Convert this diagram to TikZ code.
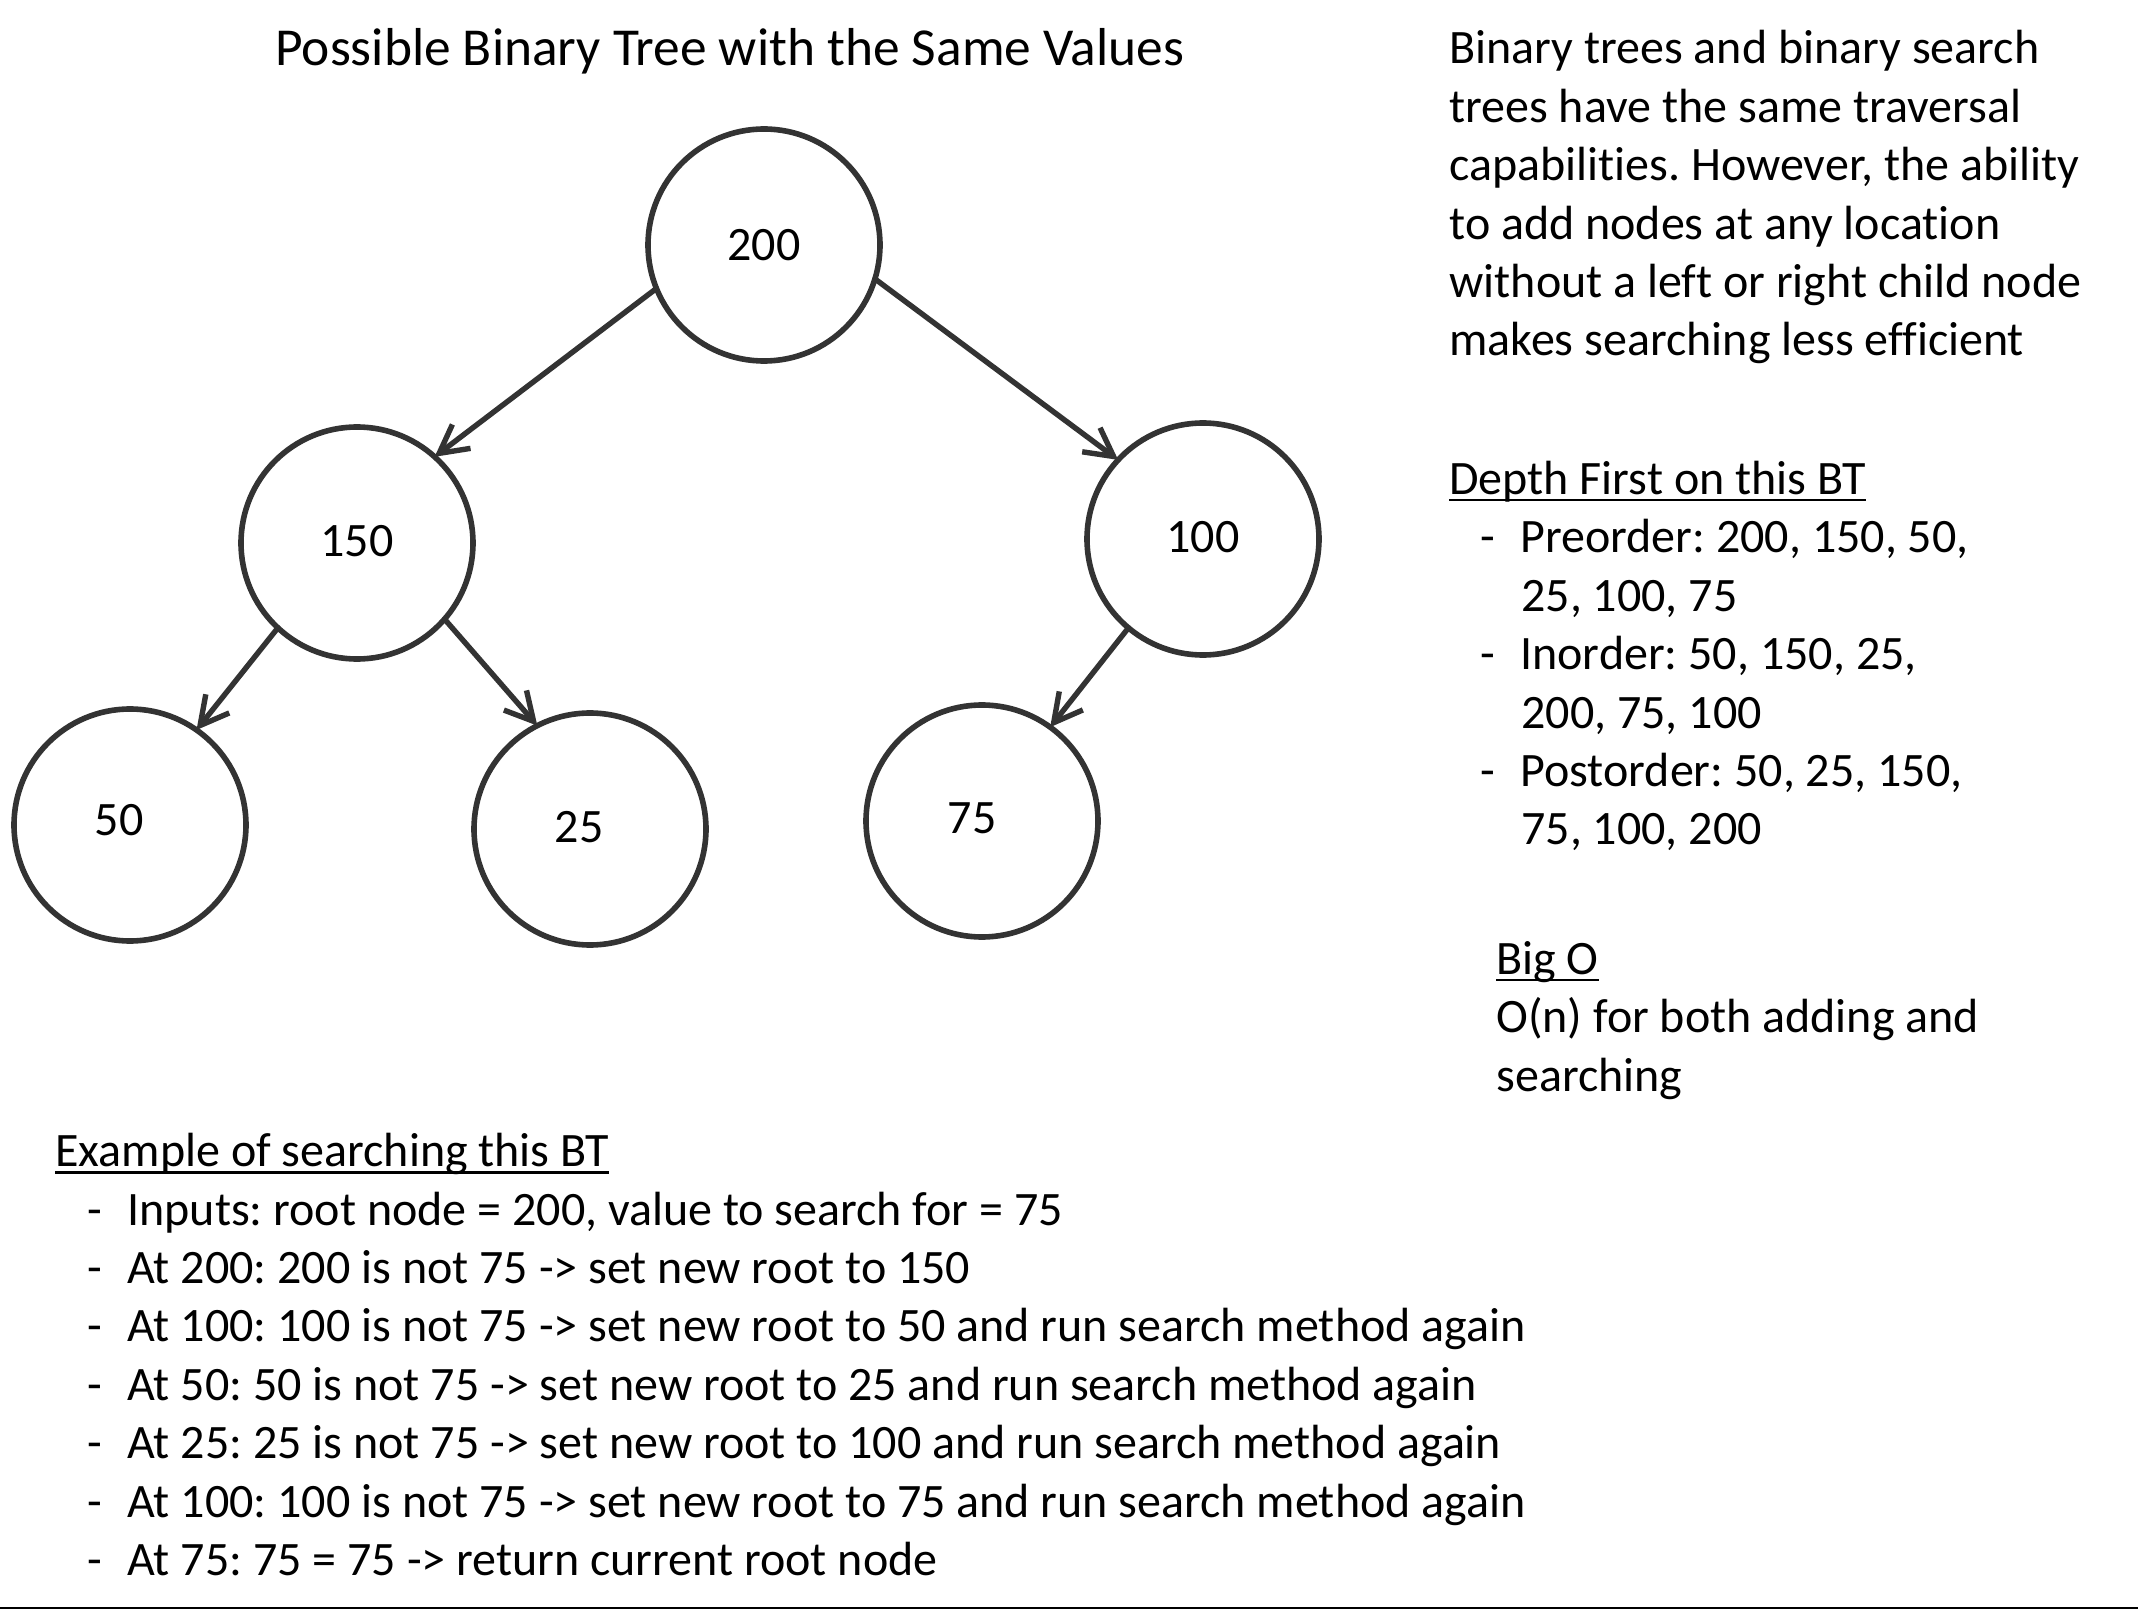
\documentclass[tikz,border=0pt]{standalone}
\usepackage{fontspec}
\setmainfont{Carlito}[Ligatures=NoCommon]
\usetikzlibrary{arrows.meta}
\definecolor{edgegray}{RGB}{51,51,51}
\newcommand{\ulin}[1]{\setbox0\hbox{#1}\rlap{\rule[-3.5pt]{\wd0}{1.4pt}}\box0}
\newcommand{\dashitem}[1]{\makebox[20pt][l]{-}#1}
\frenchspacing

\tikzset{
  treenode/.style={circle, draw=edgegray, line width=2.8pt, minimum size=116pt,
    inner sep=0pt, outer sep=0pt, font=\fontsize{24pt}{29.2pt}\selectfont},
  treeedge/.style={draw=edgegray, line width=2.7pt, line cap=round,
    -{Straight Barb[length=14pt,width=15pt]}},
  textline/.style={anchor=base west, inner sep=0pt, font=\fontsize{24pt}{29.2pt}\selectfont},
}

\begin{document}
\begin{tikzpicture}[x=0.5pt,y=-0.5pt]
        \useasboundingbox (0,0) rectangle (2138,1610);
        \node[textline, font=\fontsize{26.7pt}{33pt}\selectfont] (title) at (275,65.7) {Possible Binary Tree with the Same Values};
        \node[treenode] (n200) at (764,245) {200};
        \node[treenode] (n150) at (357,543) {\raisebox{2pt}{150}};
        \node[treenode] (n100) at (1203,539) {\raisebox{2pt}{100}};
        \node[treenode] (n50) at (130,825) {\hspace*{-11pt}\raisebox{5pt}{50}};
        \node[treenode] (n25) at (590,829) {\hspace*{-11pt}\raisebox{2pt}{25}};
        \node[treenode] (n75) at (982,821) {\hspace*{-10pt}\raisebox{3pt}{75}};
        \draw[treeedge] (n200.202) -- (n150.48);
        \draw[treeedge] (n200.-17) -- (n100.137);
        \draw[treeedge] (n150.227) -- (n50.55);
        \draw[treeedge] (n150.-41) -- (n25.117);
        \draw[treeedge] (n100.230) -- (n75.54);
        \foreach \txt [count=\i from 0] in {Binary trees and binary search, trees have the same traversal,
            {capabilities. However, the ability}, to add nodes at any location,
            without a left or right child node, makes searching less efficient}
            \node[textline] (about\i) at (1449,64+58.4*\i) {\txt};
        \node[textline] (dfs) at (1449,494.4) {\ulin{Depth First on this BT}};
        \node[textline] (pre1) at (1480,552.8) {\dashitem{Preorder: 200, 150, 50,}};
        \node[textline] (pre2) at (1521,611.2) {25, 100, 75};
        \node[textline] (in1) at (1480,669.6) {\dashitem{Inorder: 50, 150, 25,}};
        \node[textline] (in2) at (1521,728) {200, 75, 100};
        \node[textline] (post1) at (1480,786.4) {\dashitem{Postorder: 50, 25, 150,}};
        \node[textline] (post2) at (1521,844.8) {75, 100, 200};
        \node[textline] (bigo) at (1496,974.4) {\ulin{Big O}};
        \node[textline] (bigo1) at (1496,1032.8) {O(n) for both adding and};
        \node[textline] (bigo2) at (1496,1091.2) {searching};
        \node[textline] (example) at (55,1166.7) {\ulin{Example of searching this BT}};
        \foreach \txt [count=\i] in {{Inputs: root node = 200, value to search for = 75},
            At 200: 200 is not 75 -> set new root to 150,
            At 100: 100 is not 75 -> set new root to 50 and run search method again,
            At 50: 50 is not 75 -> set new root to 25 and run search method again,
            At 25: 25 is not 75 -> set new root to 100 and run search method again,
            At 100: 100 is not 75 -> set new root to 75 and run search method again,
            At 75: 75 = 75 -> return current root node}
            \node[textline] (step\i) at (87,1166.7+58.4*\i) {\dashitem{\txt}};
        \draw[line width=0.8pt] (0,1608) -- (2138,1608);
    \end{tikzpicture}
\end{document}
